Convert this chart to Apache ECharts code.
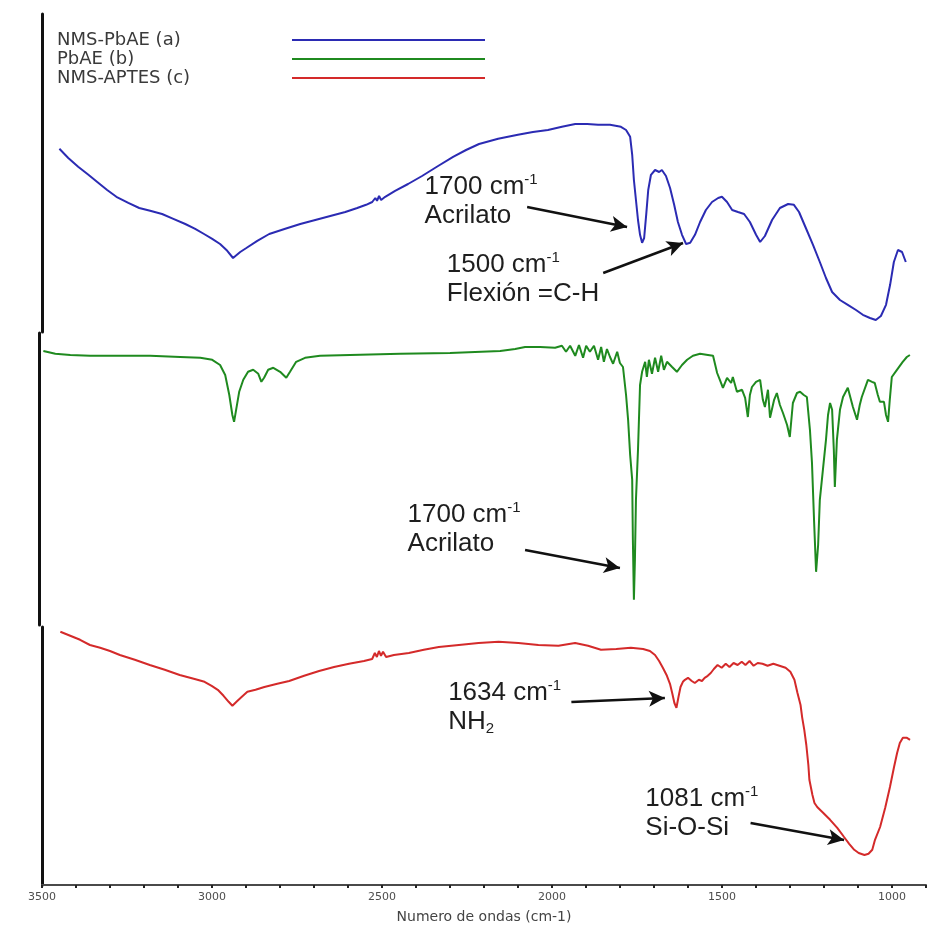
<!DOCTYPE html>
<html>
<head>
<meta charset="utf-8">
<title>FTIR NMS-PbAE / PbAE / NMS-APTES</title>
<script src="https://cdn.jsdelivr.net/npm/echarts@6/dist/echarts.min.js"></script>
<style>
  html, body { margin: 0; padding: 0; background: #ffffff; }
  #chart { width: 929px; height: 928px; }
</style>
</head>
<body>
<div id="chart"></div>
<script>
// Wavenumber tick labels (cm-1) shown on the bottom axis
const waveTicks = [3500, 3000, 2500, 2000, 1500, 1000];

// Spectrum names, top to bottom
const seriesNames = ['NMS-PbAE (a)', 'PbAE (b)', 'NMS-APTES (c)'];

// Spectra: [wavenumber cm-1, relative transmittance (a.u.)]
const nmsPbae = [
  [3449,45.8],[3423,43.5],[3394,41.3],[3364,39.3],[3338,37.5],[3309,35.5],[3282,33.8],[3247,32.3],
  [3215,31],[3183,30.3],[3148,29.5],[3115,28.3],[3080,27],[3051,25.8],[3025,24.5],[3001,23.3],
  [2978,22],[2957,20.3],[2940,18.5],[2919,20],[2901,21],[2869,22.8],[2834,24.5],[2787,25.8],
  [2743,27],[2699,28],[2655,29],[2611,30],[2576,31],[2550,31.8],[2532,32.5],[2523,33.5],
  [2518,32.8],[2512,34],[2506,33],[2494,33.8],[2465,35.3],[2427,37],[2386,39],[2339,41.5],
  [2295,43.8],[2257,45.5],[2219,47],[2163,48.3],[2105,49.3],[2061,50],[2017,50.5],[1976,51.3],
  [1937,52],[1902,52],[1870,51.8],[1835,51.8],[1803,51.3],[1788,50.5],[1776,48.8],[1770,44.3],
  [1765,38],[1759,33],[1753,28],[1747,24.3],[1741,22.3],[1735,23.5],[1729,29.3],[1723,35.5],
  [1715,39.3],[1703,40.5],[1691,40],[1683,40.5],[1671,39],[1659,36],[1647,31.8],[1636,27.5],
  [1624,24.3],[1612,22],[1600,22.3],[1586,24.3],[1571,27.5],[1554,30.5],[1536,32.5],[1518,33.5],
  [1507,33.8],[1492,32.5],[1477,30.5],[1460,30],[1442,29.5],[1425,27.5],[1407,24.3],[1395,22.5],
  [1381,24],[1360,28],[1337,31],[1313,32],[1296,31.8],[1281,30],[1261,26],[1240,21.8],
  [1220,17.5],[1202,13.5],[1184,10],[1161,8],[1138,6.8],[1114,5.5],[1094,4.3],[1073,3.5],
  [1056,3],[1041,4],[1026,6.8],[1014,11.8],[1003,17.5],[991,20.5],[979,20],[968,17.5]
];

const pbae = [
  [3496,68.5],[3461,67.8],[3417,67.5],[3359,67.3],[3271,67.3],[3183,67.3],[3095,67],[3036,66.8],
  [3001,66.3],[2978,65],[2963,62.5],[2951,57.5],[2942,52.5],[2937,50.8],[2931,53.8],[2922,58.3],
  [2910,61.3],[2896,63.3],[2881,63.8],[2866,62.8],[2857,60.8],[2849,61.8],[2837,63.8],[2822,64.3],
  [2802,63.3],[2784,61.8],[2773,63.3],[2755,65.8],[2729,66.8],[2685,67.3],[2597,67.5],[2450,67.8],
  [2304,68],[2157,68.5],[2113,69],[2084,69.5],[2040,69.5],[1996,69.3],[1976,69.8],[1964,68.3],
  [1952,69.8],[1937,67.3],[1926,70],[1914,66.8],[1905,69.8],[1894,68.3],[1882,69.8],[1870,66.3],
  [1861,69.5],[1853,65.8],[1844,69],[1835,67],[1826,65.3],[1814,68.3],[1806,65.5],[1797,64.5],
  [1788,57.5],[1782,51.3],[1776,42.5],[1770,36.3],[1768,21.3],[1765,6.3],[1762,16.3],[1759,31.3],
  [1753,43.8],[1747,60],[1741,63.3],[1732,65.8],[1727,62],[1721,66.3],[1712,62.8],[1703,66.8],
  [1694,63.3],[1685,67.3],[1677,63.8],[1668,65.8],[1653,64.5],[1639,63.3],[1624,65],[1609,66.3],
  [1592,67.3],[1571,67.8],[1548,67.5],[1533,67.3],[1521,63],[1513,61.3],[1504,59.3],[1492,61.8],
  [1480,60.5],[1475,62],[1463,58.3],[1448,58.8],[1439,56.8],[1431,52],[1425,57.5],[1419,59.5],
  [1407,60.8],[1395,61.3],[1387,56.3],[1381,54.5],[1372,58.8],[1366,51.8],[1354,56.3],[1346,58],
  [1337,55],[1328,53],[1316,50],[1308,47],[1299,55.5],[1287,58],[1278,58.3],[1267,57.5],
  [1258,57],[1249,48.8],[1243,40.5],[1237,26.3],[1231,13.3],[1225,20],[1220,31.3],[1211,38.8],
  [1202,46.3],[1196,52.5],[1190,55.5],[1184,53.8],[1179,43.8],[1176,34.5],[1170,46.3],[1161,53.8],
  [1152,57],[1138,59.3],[1123,54.5],[1111,51.3],[1103,55],[1097,57],[1079,61.3],[1067,60.8],
  [1059,60.5],[1050,57.5],[1044,55.8],[1032,55.8],[1026,52.5],[1020,50.8],[1015,56.3],[1009,62],
  [994,63.8],[977,65.8],[965,67],[956,67.5]
];

const nmsAptes = [
  [3446,63.3],[3417,62.3],[3388,61.3],[3359,60],[3329,59.3],[3300,58.5],[3271,57.5],[3227,56.3],
  [3183,55],[3139,53.8],[3095,52.5],[3051,51.5],[3022,50.8],[3001,49.8],[2983,48.8],[2966,47.3],
  [2951,45.8],[2940,44.8],[2928,45.8],[2913,47],[2896,48.3],[2872,48.8],[2846,49.5],[2808,50.3],
  [2773,51],[2729,52.3],[2685,53.5],[2641,54.5],[2597,55.3],[2553,56],[2529,56.5],[2521,58],
  [2515,57],[2509,58.5],[2503,57.3],[2497,58.3],[2488,57],[2465,57.5],[2421,58],[2377,58.8],
  [2333,59.5],[2274,60],[2216,60.5],[2157,60.8],[2099,60.5],[2040,60],[1981,59.8],[1932,60.5],
  [1894,59.8],[1856,58.8],[1811,59],[1768,59.3],[1732,59],[1712,58.5],[1697,57.5],[1685,56],
  [1674,54.3],[1662,52.3],[1653,50.3],[1646,47.8],[1640,45.5],[1634,44.3],[1628,47],[1622,49.5],
  [1615,50.8],[1609,51.3],[1600,51.8],[1589,51],[1580,50.5],[1568,51.3],[1559,51],[1551,51.8],
  [1542,52.3],[1533,53],[1524,54],[1513,55],[1501,54.3],[1489,55.3],[1478,54.5],[1466,55.5],
  [1454,55],[1442,55.8],[1431,55],[1419,56],[1407,54.8],[1395,55.5],[1381,55.3],[1366,54.8],
  [1349,55.3],[1331,54.8],[1313,54.3],[1299,53.3],[1287,51.3],[1278,48],[1269,45],[1264,41.8],
  [1258,38.8],[1252,35],[1246,30],[1243,26.3],[1234,22.5],[1228,20.5],[1220,19.5],[1202,18],
  [1182,16.3],[1161,14.3],[1141,12],[1126,10.3],[1111,8.8],[1098,8],[1081,7.5],[1069,7.8],
  [1058,8.8],[1050,11.3],[1035,14.5],[1020,19.3],[1006,24.5],[994,29.5],[985,33],[977,35.5],
  [968,36.8],[956,36.8],[947,36.3]
];

// Band assignments: text anchor, arrow start and arrow tip in (cm-1, a.u.)
const bandNotes = [
  { panel: 0, band: '1700', group: 'Acrilato',     text: [2377, 39.75], from: [2078, 31.25], to: [1785, 26.25] },
  { panel: 0, band: '1500', group: 'Flexión =C-H', text: [2312, 20.25], from: [1855, 14.75], to: [1621, 22.25] },
  { panel: 1, band: '1700', group: 'Acrilato',     text: [2427, 31],    from: [2084, 18.75], to: [1806, 14.25] },
  { panel: 2, band: '1634', group: 'NH', sub: '2', text: [2304, 51.5],  from: [1943, 45.75], to: [1668, 46.75] },
  { panel: 2, band: '1081', group: 'Si-O-Si',      text: [1724, 25],    from: [1416, 15.5],  to: [1141, 11.25] }
];

const spectra = [nmsPbae, pbae, nmsAptes];
const lineColors = ['#2b2bb3', '#1f8a1f', '#d42a2a'];
const panelMax = [79.5, 73, 64.5];
const grids = [
  { left: 42, right: 0, top: 14,  height: 318 },
  { left: 42, right: 0, top: 333, height: 292 },
  { left: 42, right: 0, top: 627, height: 258 }
];

const noteFont = 'Liberation Sans, Arial, sans-serif';
const noteRich = {
  n: { fontSize: 26, lineHeight: 29, fontFamily: noteFont, color: '#1e1e1e' },
  s: { fontSize: 15, lineHeight: 19, fontFamily: noteFont, color: '#1e1e1e', verticalAlign: 'top' },
  b: { fontSize: 15, lineHeight: 16, fontFamily: noteFont, color: '#1e1e1e', verticalAlign: 'bottom' }
};

function noteText(n) {
  const second = n.sub ? `{n|${n.group}}{b|${n.sub}}` : `{n|${n.group}}`;
  return `{n|${n.band} cm}{s|-1}\n${second}`;
}

const series = spectra.map((data, i) => {
  const notes = bandNotes.filter(n => n.panel === i);
  return {
    name: seriesNames[i],
    type: 'line',
    xAxisIndex: i,
    yAxisIndex: i,
    data: data,
    symbol: 'none',
    showSymbol: false,
    silent: true,
    animation: false,
    lineStyle: { color: lineColors[i], width: 2 },
    itemStyle: { color: lineColors[i] },
    markLine: {
      silent: true,
      animation: false,
      label: { show: false },
      emphasis: { disabled: true },
      lineStyle: { color: '#111111', width: 2.5, type: 'solid' },
      data: notes.map(n => [
        { coord: n.from, symbol: 'none' },
        { coord: n.to, symbol: 'arrow', symbolSize: [12, 16] }
      ])
    },
    markPoint: {
      silent: true,
      animation: false,
      symbol: 'rect',
      symbolSize: 1,
      itemStyle: { color: 'rgba(0,0,0,0)' },
      label: { show: true, position: [0, 0], rich: noteRich },
      emphasis: { disabled: true },
      data: notes.map(n => ({ coord: n.text, label: { formatter: noteText(n) } }))
    }
  };
});

const chart = echarts.init(document.getElementById('chart'), null, { renderer: 'canvas' });

chart.setOption({
  backgroundColor: '#ffffff',
  animation: false,
  legend: {
    data: seriesNames,
    orient: 'vertical',
    left: 57,
    top: 31,
    padding: 0,
    itemGap: 1,
    align: 'right',
    icon: 'rect',
    itemWidth: 193,
    itemHeight: 2,
    selectedMode: false,
    formatter: name => `{a|${name}}`,
    textStyle: {
      rich: {
        a: { width: 230, align: 'left', fontSize: 18, lineHeight: 20, fontFamily: 'DejaVu Sans, sans-serif', color: '#3a3a3a' }
      }
    }
  },
  grid: grids,
  xAxis: grids.map((g, i) => ({
    gridIndex: i,
    type: 'value',
    min: 900,
    max: 3500,
    interval: 100,
    inverse: true,
    show: i === 2,
    axisLine: { show: true, lineStyle: { color: '#4a4a4a', width: 2 } },
    axisTick: { show: true, length: 3, lineStyle: { color: '#222222', width: 2 } },
    axisLabel: {
      formatter: v => (waveTicks.includes(v) ? String(v) : ''),
      fontSize: 11,
      fontFamily: 'DejaVu Sans, sans-serif',
      color: '#4d4d4d',
      margin: 7
    },
    splitLine: { show: false },
    name: i === 2 ? 'Numero de ondas (cm-1)' : '',
    nameLocation: 'middle',
    nameGap: 25,
    nameTextStyle: { fontSize: 14, fontFamily: 'DejaVu Sans, sans-serif', color: '#444444' }
  })),
  yAxis: panelMax.map((max, i) => ({
    gridIndex: i,
    type: 'value',
    min: 0,
    max: max,
    offset: i === 1 ? 3 : 0,
    axisLine: { show: true, lineStyle: { color: '#111111', width: 3 } },
    axisTick: { show: false },
    axisLabel: { show: false },
    splitLine: { show: false }
  })),
  series: series
});
</script>
</body>
</html>
